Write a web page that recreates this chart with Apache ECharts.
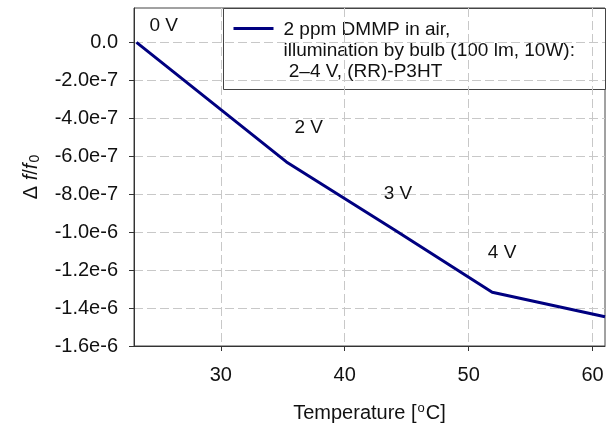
<!DOCTYPE html>
<html>
<head>
<meta charset="utf-8">
<script src="https://cdn.jsdelivr.net/npm/echarts@6/dist/echarts.min.js"></script>
<style>
  html, body { margin: 0; padding: 0; background: #fff; }
  #chart { width: 606px; height: 425px; }
</style>
</head>
<body>
<div id="chart"></div>
<script>
// Frequency shift of the sensor vs. temperature (2 ppm DMMP, bulb illumination)
const tempC = [23.2, 35.3, 44.0, 51.9, 61.0];
const deltaF = [0, -6.30e-7, -9.87e-7, -1.317e-6, -1.446e-6];

// Bias voltage annotations placed in data coordinates
const voltText = ['0 V', '2 V', '3 V', '4 V'];
const voltX = [25.4, 37.1, 44.3, 52.7];
const voltY = [0.88e-7, -4.5e-7, -7.98e-7, -1.11e-6];

// Axis ticks
const xTicks = [30, 40, 50, 60];
const yTicks = [0, -2e-7, -4e-7, -6e-7, -8e-7, -1.0e-6, -1.2e-6, -1.4e-6, -1.6e-6];

const legendLines = ['2 ppm DMMP in air,', 'illumination by bulb (100 lm, 10W):', ' 2\u20134 V, (RR)-P3HT'];

const LINE_COLOR = '#000080';
const TEXT_COLOR = '#111';
const FONT = '"Liberation Sans", Arial, Helvetica, sans-serif';

const chart = echarts.init(document.getElementById('chart'), null, { renderer: 'canvas' });

const gridLine = { show: true, lineStyle: { color: '#c8c8c8', width: 1, type: [9, 4] } };

chart.setOption({
  animation: false,
  backgroundColor: '#fff',
  textStyle: { fontFamily: FONT },
  grid: {
    left: 134, right: 1, top: 8, bottom: 79,
    outerBoundsMode: 'none', containLabel: false,
    show: true, borderColor: '#444', borderWidth: 1, backgroundColor: 'transparent'
  },
  xAxis: {
    type: 'value',
    min: 23,
    max: 61,
    axisLine: { show: true, onZero: false, lineStyle: { color: '#333', width: 1 } },
    axisTick: { show: true, length: 5, customValues: xTicks, lineStyle: { color: '#333' } },
    axisLabel: { customValues: xTicks, margin: 19, fontSize: 20, color: TEXT_COLOR, fontFamily: FONT },
    splitLine: gridLine,
    name: 'Temperature [{sup|o}C]',
    nameLocation: 'middle',
    nameGap: 56,
    nameTextStyle: {
      fontSize: 20, color: TEXT_COLOR, fontFamily: FONT,
      rich: { sup: { fontSize: 13, verticalAlign: 'top', padding: [0, 1, 9, 1], color: TEXT_COLOR, fontFamily: FONT } }
    }
  },
  yAxis: {
    type: 'value',
    min: -1.6e-6,
    max: 1.81e-7,
    axisLine: { show: true, onZero: false, lineStyle: { color: '#333', width: 1 } },
    axisTick: { show: true, length: 5, customValues: yTicks, lineStyle: { color: '#333' } },
    axisLabel: {
      customValues: yTicks, margin: 16, fontSize: 20, color: TEXT_COLOR, fontFamily: FONT,
      formatter: v => (Math.abs(v) < 1e-12 ? '0.0' : v.toExponential(1))
    },
    splitLine: gridLine,
    name: '\u0394 {it|f}/{it|f}{sub|0}',
    nameLocation: 'middle',
    nameGap: 92,
    nameRotate: 90,
    nameTextStyle: {
      fontSize: 20, color: TEXT_COLOR, fontFamily: FONT,
      rich: {
        it: { fontSize: 20, fontStyle: 'italic', color: TEXT_COLOR, fontFamily: FONT },
        sub: { fontSize: 14, verticalAlign: 'bottom', padding: [8, 0, 0, 1], color: TEXT_COLOR, fontFamily: FONT }
      }
    }
  },
  series: [
    {
      name: legendLines.join(' '),
      type: 'line',
      data: tempC.map((t, i) => [t, deltaF[i]]),
      showSymbol: false,
      symbol: 'none',
      lineStyle: { color: LINE_COLOR, width: 3 },
      itemStyle: { color: LINE_COLOR },
      z: 3
    },
    {
      type: 'scatter',
      data: voltText.map((s, i) => ({ name: s, value: [voltX[i], voltY[i]] })),
      symbolSize: 0,
      itemStyle: { color: TEXT_COLOR, opacity: 1 },
      label: {
        show: true, position: [0, 0], align: 'center', verticalAlign: 'middle', opacity: 1,
        formatter: p => p.name, fontSize: 19, color: TEXT_COLOR, fontFamily: FONT
      },
      emphasis: { disabled: true },
      silent: true,
      z: 4
    }
  ],
  graphic: [
    {
      type: 'group',
      left: 223,
      top: 8,
      z: 10,
      children: [
        { type: 'rect', shape: { x: 0, y: 0, width: 382, height: 81 }, style: { fill: '#fff', stroke: '#444', lineWidth: 1 } },
        { type: 'line', shape: { x1: 10, y1: 20, x2: 50, y2: 20 }, style: { stroke: LINE_COLOR, lineWidth: 3 } },
        {
          type: 'text', x: 60, y: 11,
          style: { text: legendLines.join('\n'), font: '19px ' + FONT, lineHeight: 21, fill: TEXT_COLOR, verticalAlign: 'top' }
        }
      ]
    }
  ]
});
</script>
</body>
</html>
